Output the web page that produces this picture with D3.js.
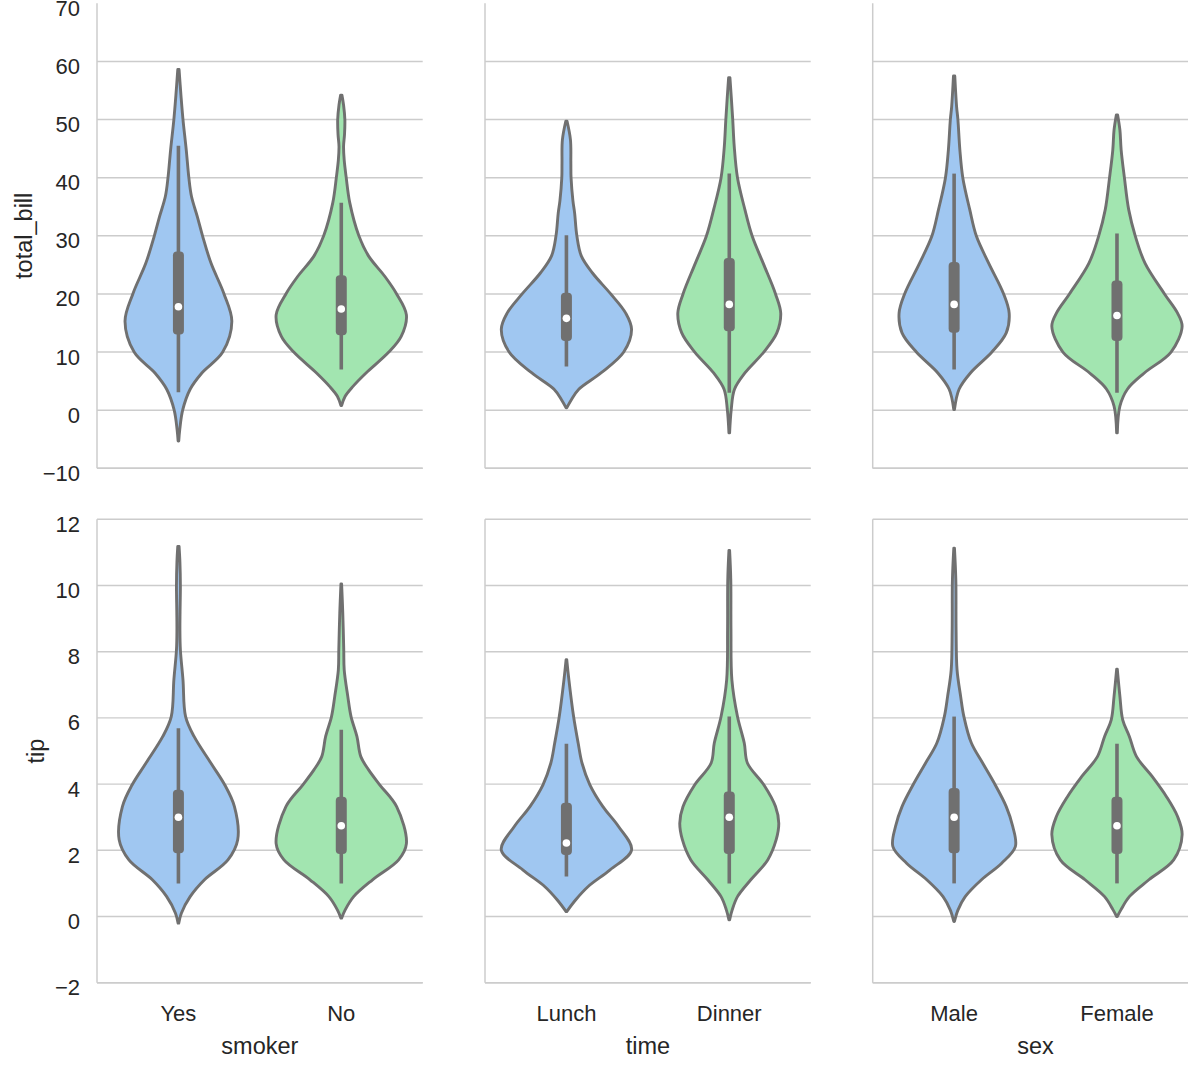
<!DOCTYPE html>
<html>
<head>
<meta charset="utf-8">
<script src="https://cdn.jsdelivr.net/npm/d3@7"></script>
<style>
  html, body { margin: 0; padding: 0; background: #ffffff; }
  text { font-family: "Liberation Sans", Arial, Helvetica, sans-serif; fill: #262626; }
</style>
</head>
<body>
<svg id="chart" width="1188" height="1084"></svg>
<script>
// ---------------- DATA ----------------
const facetVars = ["smoker", "time", "sex"];
const smokerCats = ["Yes", "No"];
const timeCats = ["Lunch", "Dinner"];
const sexCats = ["Male", "Female"];
const rowVars = ["total_bill", "tip"];
const billTicks = [-10, 0, 10, 20, 30, 40, 50, 60, 70];
const tipTicks = [-2, 0, 2, 4, 6, 8, 10, 12];
const billDomain = [-10, 70];
const tipDomain = [-2, 12];

// violin profiles: [value, relative half-width]
const billYes = [[58.6,0.01],[54,0.04],[50,0.07],[44.8,0.12],[40,0.16],[36.8,0.2],[33.3,0.29],[30,0.37],[25.3,0.5],[20,0.7],[15.3,0.82],[10,0.68],[6.4,0.36],[3.6,0.18],[0,0.065],[-3.4,0.02],[-5.3,0.005]];
const billNo = [[54.2,0.01],[52.5,0.035],[50,0.055],[47.5,0.05],[45.4,0.035],[43,0.045],[40,0.076],[35.7,0.13],[30,0.27],[26.5,0.42],[23,0.67],[20,0.85],[16.4,1.0],[12.7,0.92],[10,0.73],[6.4,0.38],[4.1,0.18],[2.4,0.06],[0.8,0.005]];
const billLunch = [[49.7,0.01],[46.5,0.062],[42.5,0.068],[40,0.071],[36,0.1],[33.9,0.126],[30,0.16],[26.5,0.23],[23.6,0.4],[20,0.68],[16.7,0.91],[13.9,1.0],[10,0.88],[6.4,0.53],[3.6,0.19],[1.8,0.076],[0.4,0.005]];
const billDinner = [[57.2,0.01],[54,0.03],[50,0.053],[45.4,0.076],[40,0.126],[34.5,0.24],[30,0.35],[25.3,0.52],[20,0.71],[16.7,0.79],[13.3,0.73],[10,0.53],[6.4,0.24],[3.6,0.08],[0.1,0.03],[-3.9,0.005]];
const billMale = [[57.5,0.01],[52.2,0.038],[50,0.058],[44.8,0.088],[40,0.133],[34.5,0.24],[30,0.34],[25.3,0.53],[20,0.76],[16.7,0.845],[13.3,0.8],[10,0.58],[6.4,0.25],[3.6,0.076],[0.1,0.005]];
const billFemale = [[50.8,0.01],[48.2,0.045],[44.8,0.064],[40,0.114],[34.5,0.18],[30,0.28],[25.3,0.43],[20,0.73],[16.7,0.93],[14.4,1.0],[10,0.83],[6.4,0.42],[3.6,0.16],[0.7,0.045],[-3.9,0.005]];

const tipYes = [[11.18,0.01],[10.7,0.023],[10.0,0.03],[9.2,0.025],[8.66,0.023],[8.06,0.03],[7.15,0.07],[6.04,0.11],[5.44,0.24],[4.63,0.5],[3.98,0.71],[3.32,0.86],[2.32,0.91],[1.71,0.76],[1.11,0.4],[0.6,0.18],[0.1,0.045],[-0.2,0.005]];
const tipNo = [[10.05,0.005],[9.17,0.023],[8.06,0.038],[7.45,0.045],[6.65,0.1],[6.04,0.15],[5.44,0.24],[4.83,0.3],[4.43,0.42],[3.98,0.59],[3.32,0.85],[2.2,1.0],[1.71,0.88],[1.11,0.48],[0.6,0.19],[0.2,0.06],[-0.05,0.005]];
const tipLunch = [[7.76,0.005],[7.15,0.038],[6.04,0.11],[5.24,0.18],[4.63,0.24],[3.98,0.36],[3.32,0.56],[2.72,0.8],[2.01,1.0],[1.41,0.67],[0.9,0.33],[0.5,0.14],[0.15,0.005]];
const tipDinner = [[11.06,0.005],[10.18,0.023],[8.66,0.026],[7.15,0.04],[6.04,0.126],[5.24,0.23],[4.63,0.28],[3.98,0.53],[3.32,0.71],[2.82,0.76],[2.32,0.72],[1.71,0.59],[1.11,0.33],[0.6,0.126],[0.2,0.045],[-0.1,0.005]];
const tipMale = [[11.13,0.005],[10.18,0.026],[8.66,0.03],[7.45,0.045],[6.65,0.1],[6.04,0.15],[5.24,0.265],[4.63,0.44],[3.98,0.63],[3.32,0.8],[2.72,0.9],[2.11,0.94],[1.61,0.73],[1.11,0.42],[0.6,0.17],[0.2,0.06],[-0.15,0.005]];
const tipFemale = [[7.47,0.005],[6.65,0.045],[5.94,0.088],[5.44,0.19],[4.83,0.3],[4.23,0.54],[3.62,0.76],[3.02,0.93],[2.47,1.0],[1.71,0.87],[1.11,0.49],[0.6,0.19],[0.2,0.06],[0.0,0.005]];

// box stats: [whisker low, q1, median, q3, whisker high]
const billYesBox = [3.1, 13.0, 17.8, 27.3, 45.5];
const billNoBox = [7.0, 12.9, 17.4, 23.2, 35.7];
const billLunchBox = [7.5, 11.9, 15.8, 20.2, 30.1];
const billDinnerBox = [3.0, 13.6, 18.2, 26.2, 40.7];
const billMaleBox = [7.0, 13.3, 18.2, 25.5, 40.7];
const billFemaleBox = [3.0, 11.9, 16.3, 22.3, 30.4];
const tipYesBox = [1.0, 1.91, 3.0, 3.83, 5.69];
const tipNoBox = [1.0, 1.89, 2.74, 3.62, 5.64];
const tipLunchBox = [1.21, 1.86, 2.22, 3.44, 5.22];
const tipDinnerBox = [1.0, 1.89, 3.0, 3.78, 6.04];
const tipMaleBox = [1.0, 1.91, 3.0, 3.88, 6.04];
const tipFemaleBox = [1.0, 1.89, 2.74, 3.62, 5.22];

const colors = ["#a0c7f1", "#a2e5b0"];

// ---------------- LAYOUT ----------------
const svg = d3.select("#chart");
const panelX = [97, 485, 872.7];
const panelW = 325.7;
const rowsY = [[3.3, 468.3], [519.3, 982.7]];
const lineGray = "#707070";
const gridGray = "#cccccc";

const catsByCol = [smokerCats, timeCats, sexCats];
const profiles = [
  [[billYes, billNo], [billLunch, billDinner], [billMale, billFemale]],
  [[tipYes, tipNo], [tipLunch, tipDinner], [tipMale, tipFemale]]
];
const boxes = [
  [[billYesBox, billNoBox], [billLunchBox, billDinnerBox], [billMaleBox, billFemaleBox]],
  [[tipYesBox, tipNoBox], [tipLunchBox, tipDinnerBox], [tipMaleBox, tipFemaleBox]]
];
const domains = [billDomain, tipDomain];
const ticksByRow = [billTicks, tipTicks];
const fmt = d3.format("d");

rowVars.forEach((rv, r) => {
  const [yTop, yBot] = rowsY[r];
  const y = d3.scaleLinear().domain(domains[r]).range([yBot, yTop]);
  facetVars.forEach((fv, c) => {
    const x0 = panelX[c];
    const x = d3.scaleBand().domain(catsByCol[c]).range([x0, x0 + panelW]);
    const wScale = d3.scaleLinear().domain([0, 1]).range([0, x.bandwidth() * 0.4]);
    const g = svg.append("g");

    // gridlines (the top tick of the upper row is not drawn in the reference)
    const gridTicks = ticksByRow[r].filter(t => !(r === 0 && t === domains[r][1]));
    g.selectAll("line.grid").data(gridTicks).enter().append("line")
      .attr("x1", x0).attr("x2", x0 + panelW)
      .attr("y1", d => y(d)).attr("y2", d => y(d))
      .attr("stroke", gridGray).attr("stroke-width", 1.4);

    // spines
    g.append("line").attr("x1", x0).attr("x2", x0).attr("y1", yTop).attr("y2", yBot)
      .attr("stroke", gridGray).attr("stroke-width", 1.5);
    g.append("line").attr("x1", x0).attr("x2", x0 + panelW).attr("y1", yBot).attr("y2", yBot)
      .attr("stroke", gridGray).attr("stroke-width", 1.5);

    // violins
    catsByCol[c].forEach((cat, k) => {
      const cx = x(cat) + x.bandwidth() / 2;
      const prof = profiles[r][c][k];
      const area = d3.area()
        .y(d => y(d[0]))
        .x0(d => cx - wScale(d[1]))
        .x1(d => cx + wScale(d[1]))
        .curve(d3.curveCatmullRom.alpha(0.5));
      g.append("path").attr("d", area(prof))
        .attr("fill", colors[k]).attr("stroke", lineGray)
        .attr("stroke-width", 2.9).attr("stroke-linejoin", "round");

      const b = boxes[r][c][k];
      g.append("line").attr("x1", cx).attr("x2", cx)
        .attr("y1", y(b[0])).attr("y2", y(b[4]))
        .attr("stroke", lineGray).attr("stroke-width", 3.6);
      g.append("rect").attr("x", cx - 5.5).attr("width", 11)
        .attr("y", y(b[3])).attr("height", y(b[1]) - y(b[3]))
        .attr("rx", 4).attr("fill", lineGray);
      g.append("circle").attr("cx", cx).attr("cy", y(b[2])).attr("r", 3.8)
        .attr("fill", "#ffffff");
    });

    // y tick labels only on first column
    if (c === 0) {
      g.selectAll("text.ytick").data(ticksByRow[r]).enter().append("text")
        .attr("x", 80).attr("y", d => y(d) + 12.5)
        .attr("text-anchor", "end").attr("font-size", "22px")
        .text(d => fmt(d));
    }
    // x tick labels + x label on bottom row
    if (r === 1) {
      g.selectAll("text.xtick").data(catsByCol[c]).enter().append("text")
        .attr("x", d => x(d) + x.bandwidth() / 2).attr("y", 1020.7)
        .attr("text-anchor", "middle").attr("font-size", "22px")
        .text(d => d);
      g.append("text").attr("x", x0 + panelW / 2).attr("y", 1054)
        .attr("text-anchor", "middle").attr("font-size", "23.5px").text(fv);
    }
  });
  // y axis label
  const labelX = r === 0 ? 32 : 44;
  svg.append("text")
    .attr("transform", `translate(${labelX},${(yTop + yBot) / 2}) rotate(-90)`)
    .attr("text-anchor", "middle").attr("font-size", "23.5px").text(rv);
});
</script>
</body>
</html>
